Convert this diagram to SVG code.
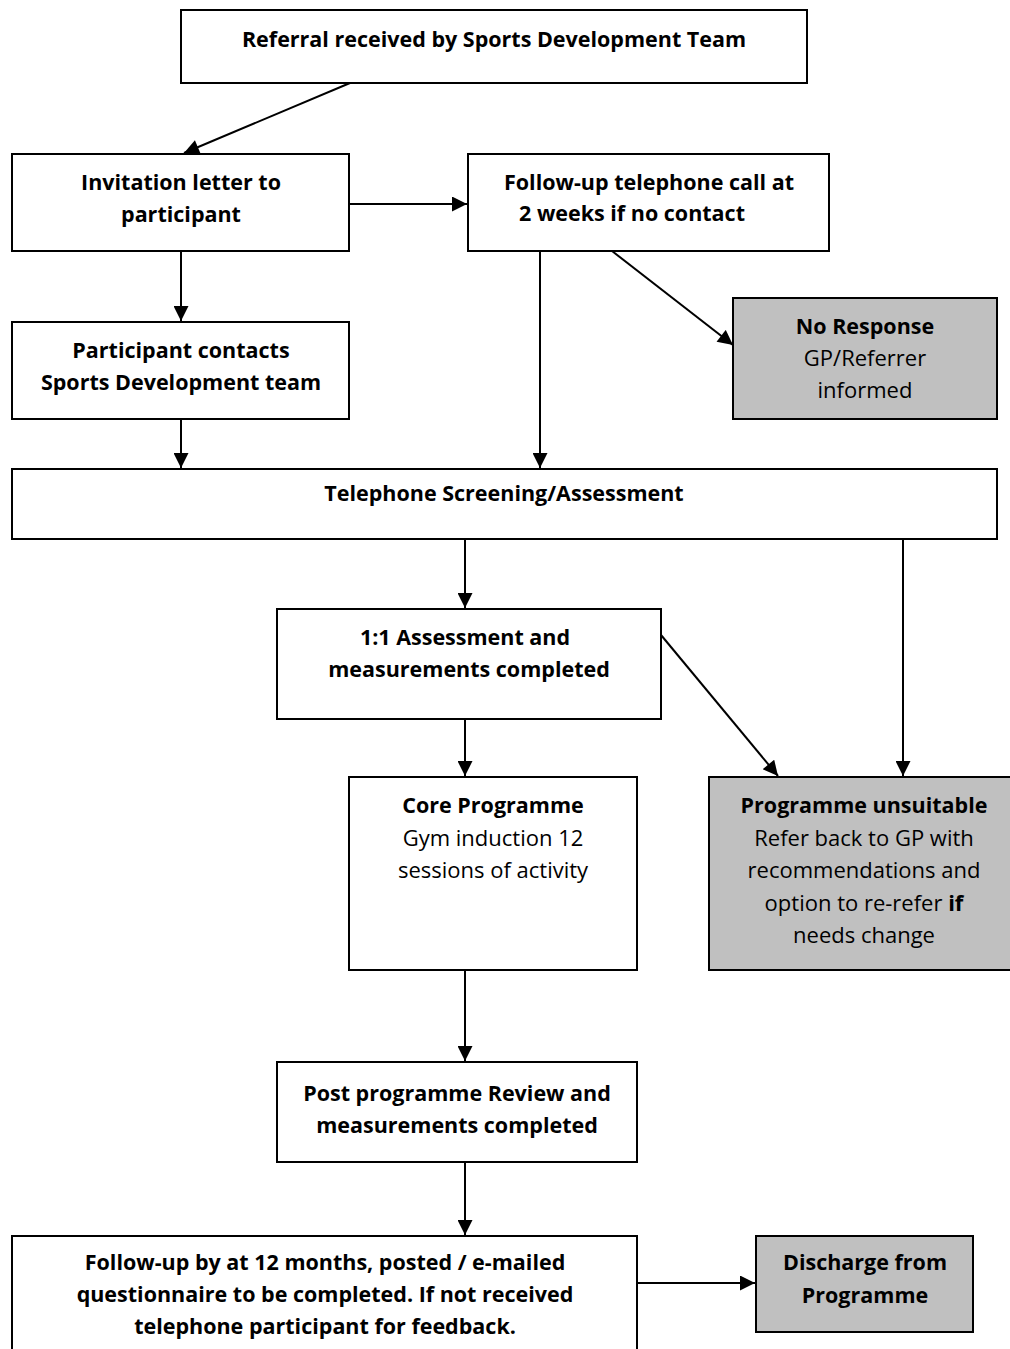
<svg xmlns="http://www.w3.org/2000/svg" width="1010" height="1349" viewBox="0 0 1010 1349">
<style>
.box{fill:#fff;stroke:#000;stroke-width:2}
.grey{fill:#c0c0c0;stroke:#000;stroke-width:2}
text{font-family:"Open Sans","Liberation Sans",Arial,sans-serif;font-size:22px;fill:#000;text-anchor:middle}
.b{font-weight:bold;font-size:21.5px}
.c line{stroke:#000;stroke-width:2;marker-end:url(#ah)}
</style>
<defs>
<marker id="ah" viewBox="0 0 10 10" refX="10" refY="5" markerWidth="8.5" markerHeight="7.5" markerUnits="strokeWidth" orient="auto">
<path d="M0,0 L10,5 L0,10 z" fill="#000"/>
</marker>
</defs>
<g class="c" id="connectors">
<line x1="350" y1="83" x2="184" y2="153"/>
<line x1="349" y1="204" x2="467" y2="204"/>
<line x1="181" y1="251" x2="181" y2="321"/>
<line x1="540" y1="251" x2="540" y2="468"/>
<line x1="612" y1="251" x2="733" y2="345"/>
<line x1="181" y1="419" x2="181" y2="468"/>
<line x1="465" y1="539" x2="465" y2="608"/>
<line x1="903" y1="539" x2="903" y2="776"/>
<line x1="661" y1="635" x2="778" y2="776"/>
<line x1="465" y1="719" x2="465" y2="776"/>
<line x1="465" y1="970" x2="465" y2="1061"/>
<line x1="465" y1="1162" x2="465" y2="1235"/>
<line x1="637" y1="1283" x2="755" y2="1283"/>
</g>
<g id="n1"><rect class="box" x="181" y="10" width="626" height="73"/><text class="b" x="494" y="47">Referral received by Sports Development Team</text></g>
<g id="n2"><rect class="box" x="12" y="154" width="337" height="97"/><text class="b" x="181" y="190">Invitation letter to</text><text class="b" x="181" y="222">participant</text></g>
<g id="n3"><rect class="box" x="468" y="154" width="361" height="97"/><text class="b" x="649" y="190">Follow-up telephone call at</text><text class="b" x="632" y="221">2 weeks if no contact</text></g>
<g id="n4"><rect class="box" x="12" y="322" width="337" height="97"/><text class="b" x="181" y="358">Participant contacts</text><text class="b" x="181" y="390">Sports Development team</text></g>
<g id="n5"><rect class="grey" x="733" y="298" width="264" height="121"/><text class="b" x="865" y="334">No Response</text><text x="865" y="366">GP/Referrer</text><text x="865" y="398">informed</text></g>
<g id="n6"><rect class="box" x="12" y="469" width="985" height="70"/><text class="b" x="504" y="501">Telephone Screening/Assessment</text></g>
<g id="n7"><rect class="box" x="277" y="609" width="384" height="110"/><text class="b" x="465" y="645">1:1 Assessment and</text><text class="b" x="469" y="677">measurements completed</text></g>
<g id="n8"><rect class="box" x="349" y="777" width="288" height="193"/><text class="b" x="493" y="813">Core Programme</text><text x="493" y="846">Gym induction 12</text><text x="493" y="878">sessions of activity</text></g>
<g id="n9"><rect class="grey" x="709" y="777" width="310" height="193"/><text class="b" x="864" y="813">Programme unsuitable</text><text x="864" y="846">Refer back to GP with</text><text x="864" y="878">recommendations and</text><text x="864" y="911">option to re-refer <tspan class="b" style="font-size:22px">if</tspan></text><text x="864" y="943">needs change</text></g>
<g id="n10"><rect class="box" x="277" y="1062" width="360" height="100"/><text class="b" x="457" y="1101">Post programme Review and</text><text class="b" x="457" y="1133">measurements completed</text></g>
<g id="n11"><rect class="box" x="12" y="1236" width="625" height="125"/><text class="b" x="325" y="1270">Follow-up by at 12 months, posted / e-mailed</text><text class="b" x="325" y="1302">questionnaire to be completed. If not received</text><text class="b" x="325" y="1334">telephone participant for feedback.</text></g>
<g id="n12"><rect class="grey" x="756" y="1236" width="217" height="96"/><text class="b" x="865" y="1270">Discharge from</text><text class="b" x="865" y="1303">Programme</text></g>
</svg>
